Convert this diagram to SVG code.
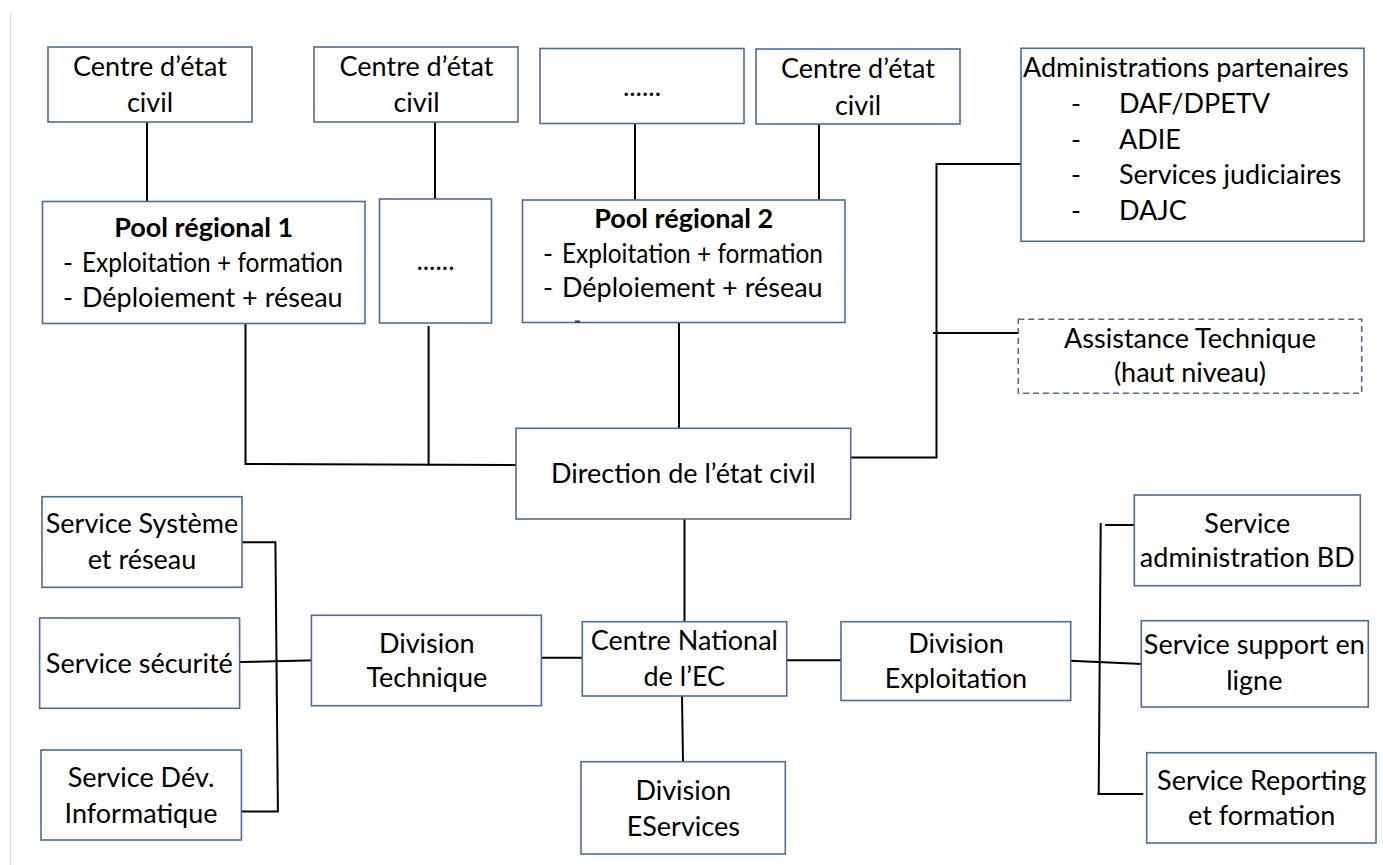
<svg xmlns="http://www.w3.org/2000/svg" width="1383" height="865" viewBox="0 0 1383 865">
  <style>
    .box { fill: #ffffff; stroke: #4a6d9c; stroke-width: 1.6; }
    .dash { fill: #ffffff; stroke: #4a6d9c; stroke-width: 1.6; stroke-dasharray: 6 4; }
    .wire { stroke: #000000; stroke-width: 2; fill: none; stroke-linecap: square; }
    text { font-family: Lato, "Open Sans", "Liberation Sans", sans-serif; font-size: 27px; fill: #000000; }
    .c { text-anchor: middle; }
    .b { font-weight: bold; }
  </style>

  <rect width="1383" height="865" fill="#ffffff"/>
  <!-- page margin rule -->
  <line x1="10.5" y1="13" x2="10.5" y2="865" stroke="#d9d9d9" stroke-width="1.2"/>

  <!-- connectors -->
  <g id="connectors" class="wire">
    <line x1="147" y1="122" x2="147" y2="201"/>
    <line x1="435" y1="122" x2="435" y2="199"/>
    <line x1="635" y1="124" x2="635" y2="200"/>
    <line x1="819" y1="124" x2="819" y2="200"/>
    <polyline points="245.5,323 245.5,464 516,465"/>
    <line x1="428.6" y1="327" x2="428.6" y2="464.5"/>
    <line x1="679" y1="322" x2="679" y2="428"/>
    <polyline points="851,457.5 936.5,457.5 936.5,164 1021,164"/>
    <line x1="934" y1="333" x2="1018" y2="333"/>
    <line x1="684.5" y1="519" x2="684.5" y2="621.7"/>
    <line x1="541.5" y1="657.7" x2="582.3" y2="657.7"/>
    <line x1="786.7" y1="660.3" x2="841" y2="660.3"/>
    <line x1="682" y1="696" x2="683" y2="762"/>
    <!-- Division Technique bracket -->
    <polyline points="242,542.3 275.4,542.3 277.9,811.5 242,811.5"/>
    <line x1="239.6" y1="662" x2="315.7" y2="660.3"/>
    <!-- Division Exploitation bracket -->
    <line x1="1100.7" y1="524" x2="1098.7" y2="794"/>
    <line x1="1106" y1="525" x2="1134.3" y2="525"/>
    <line x1="1070.7" y1="660.7" x2="1141.3" y2="664"/>
    <line x1="1098.7" y1="794" x2="1142.3" y2="794"/>
  </g>

  <g id="centre-ec-1">
    <rect class="box" x="48" y="47" width="204" height="75"/>
    <text class="c" x="150" y="76">Centre d’état</text>
    <text class="c" x="150" y="111.7">civil</text>
  </g>
  <g id="centre-ec-2">
    <rect class="box" x="314" y="47" width="204" height="75"/>
    <text class="c" x="416.5" y="76">Centre d’état</text>
    <text class="c" x="416.5" y="111.7">civil</text>
  </g>
  <g id="centre-ec-etc">
    <rect class="box" x="540" y="48.5" width="204" height="75"/>
    <text class="c" x="642" y="95.7">......</text>
  </g>
  <g id="centre-ec-4">
    <rect class="box" x="756" y="49" width="204" height="75"/>
    <text class="c" x="858" y="78.3">Centre d’état</text>
    <text class="c" x="858" y="115">civil</text>
  </g>

  <g id="pool-regional-1">
    <rect class="box" x="42.5" y="201.5" width="322.5" height="122"/>
    <text class="c b" x="203.7" y="237">Pool régional 1</text>
    <text x="63" y="272">-</text>
    <text x="82" y="272" textLength="261" lengthAdjust="spacingAndGlyphs">Exploitation + formation</text>
    <text x="63" y="306.7">-</text>
    <text x="82" y="306.7">Déploiement + réseau</text>
  </g>
  <g id="pool-regional-etc">
    <rect class="box" x="379.5" y="199" width="112" height="124"/>
    <text class="c" x="435.5" y="270">......</text>
  </g>
  <g id="pool-regional-2">
    <rect class="box" x="522.5" y="200" width="322.5" height="122.5"/>
    <text class="c b" x="683.7" y="228">Pool régional 2</text>
    <text x="543" y="262.5">-</text>
    <text x="562" y="262.5" textLength="261" lengthAdjust="spacingAndGlyphs">Exploitation + formation</text>
    <text x="543" y="297">-</text>
    <text x="562" y="297">Déploiement + réseau</text>
    <line x1="575" y1="321.5" x2="580" y2="321.5" stroke="#333333" stroke-width="2"/>
  </g>

  <g id="administrations-partenaires">
    <rect class="box" x="1021" y="48.3" width="343" height="193"/>
    <text x="1023" y="76.7">Administrations partenaires</text>
    <text x="1071" y="113.3">-</text>
    <text x="1119" y="113.3">DAF/DPETV</text>
    <text x="1071" y="149">-</text>
    <text x="1119" y="149">ADIE</text>
    <text x="1071" y="184.3">-</text>
    <text x="1119" y="184.3">Services judiciaires</text>
    <text x="1071" y="220">-</text>
    <text x="1119" y="220">DAJC</text>
  </g>
  <g id="assistance-technique">
    <rect class="dash" x="1018.3" y="319.3" width="343.4" height="74"/>
    <text class="c" x="1190" y="348.3">Assistance Technique</text>
    <text class="c" x="1190" y="381.7">(haut niveau)</text>
  </g>

  <g id="direction-etat-civil">
    <rect class="box" x="516" y="428.3" width="334.7" height="90.7"/>
    <text class="c" x="683.3" y="483.3">Direction de l’état civil</text>
  </g>

  <g id="service-systeme-reseau">
    <rect class="box" x="42" y="496.7" width="200" height="90.6"/>
    <text class="c" x="142" y="533.3">Service Système</text>
    <text class="c" x="142" y="569">et réseau</text>
  </g>
  <g id="service-securite">
    <rect class="box" x="39.6" y="618" width="200" height="90.3"/>
    <text class="c" x="139.3" y="672.7">Service sécurité</text>
  </g>
  <g id="service-dev-informatique">
    <rect class="box" x="41" y="750" width="200.4" height="90"/>
    <text class="c" x="141" y="787.3">Service Dév.</text>
    <text class="c" x="141" y="822.7">Informatique</text>
  </g>

  <g id="division-technique">
    <rect class="box" x="311.4" y="615.3" width="230" height="90.4"/>
    <text class="c" x="426.8" y="653.3">Division</text>
    <text class="c" x="426.8" y="687.3">Technique</text>
  </g>
  <g id="centre-national-ec">
    <rect class="box" x="582.3" y="621.7" width="204.4" height="74.3"/>
    <text class="c" x="684.3" y="650">Centre National</text>
    <text class="c" x="684.3" y="686">de l’EC</text>
  </g>
  <g id="division-eservices">
    <rect class="box" x="581" y="761.7" width="204.3" height="92.3"/>
    <text class="c" x="683.3" y="800">Division</text>
    <text class="c" x="683.3" y="836">EServices</text>
  </g>
  <g id="division-exploitation">
    <rect class="box" x="841" y="621.7" width="229.7" height="78.8"/>
    <text class="c" x="956" y="653.3">Division</text>
    <text class="c" x="956" y="688.3">Exploitation</text>
  </g>

  <g id="service-administration-bd">
    <rect class="box" x="1134.3" y="495" width="226" height="90.7"/>
    <text class="c" x="1247.3" y="532.7">Service</text>
    <text class="c" x="1247.3" y="567.3">administration BD</text>
  </g>
  <g id="service-support-en-ligne">
    <rect class="box" x="1141.3" y="620.7" width="227" height="86.3"/>
    <text class="c" x="1254.3" y="654.3">Service support en</text>
    <text class="c" x="1254.3" y="690">ligne</text>
  </g>
  <g id="service-reporting-formation">
    <rect class="box" x="1146.7" y="752.7" width="229.3" height="90.3"/>
    <text class="c" x="1261.7" y="790">Service Reporting</text>
    <text class="c" x="1261.7" y="825">et formation</text>
  </g>
</svg>
